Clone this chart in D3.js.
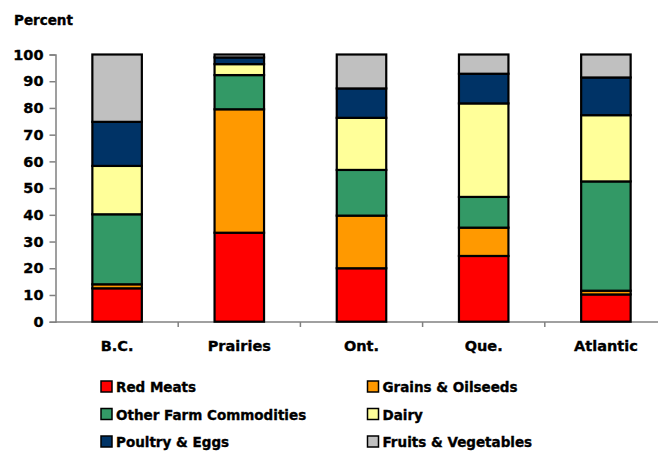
<!DOCTYPE html>
<html><head><meta charset="utf-8">
<script src="https://cdn.jsdelivr.net/npm/d3@7"></script>
<style>body{margin:0;background:#fff}svg text{font-family:"DejaVu Sans",sans-serif;font-weight:bold;fill:#000;stroke:#000;stroke-width:0.35px}</style>
</head><body><svg id="c" width="658" height="451"></svg>
<script>
const categories = ["B.C.", "Prairies", "Ont.", "Que.", "Atlantic"];
const seriesNames = ["Red Meats", "Grains & Oilseeds", "Other Farm Commodities", "Dairy", "Poultry & Eggs", "Fruits & Vegetables"];
const seriesColors = ["#FF0000", "#FF9900", "#339966", "#FFFF99", "#003366", "#C0C0C0"];
const redMeats   = [12.5, 33.3, 20.0, 24.6, 10.2];
const grains     = [1.5, 46.2, 19.7, 10.6, 1.4];
const otherFarm  = [26.2, 12.8, 17.1, 11.5, 40.9];
const dairy      = [18.1, 4.1, 19.5, 35.0, 24.8];
const poultry    = [16.5, 2.5, 11.0, 11.1, 14.1];
const fruitsVeg  = [25.2, 1.1, 12.7, 7.2, 8.6];
const yTicks = [0, 10, 20, 30, 40, 50, 60, 70, 80, 90, 100];

const seriesValues = [redMeats, grains, otherFarm, dairy, poultry, fruitsVeg];
const rows = categories.map((c, i) => {
  const r = {cat: c};
  seriesNames.forEach((s, j) => r[s] = seriesValues[j][i]);
  return r;
});
const stack = d3.stack().keys(seriesNames)(rows);

const svg = d3.select("#c");
const x = d3.scaleBand().domain(categories).range([56, 667]).paddingInner(0.595).paddingOuter(0.2975);
const y = d3.scaleLinear().domain([0, 100]).range([321.7, 54.5]);

// y axis
const ya = svg.append("g").attr("transform", "translate(55.5,0)")
  .call(d3.axisLeft(y).tickValues(yTicks).tickSize(6).tickPadding(8).tickFormat(d3.format("d")));
ya.select(".domain").attr("stroke", "#808080").attr("stroke-width", 1.5);
ya.selectAll(".tick line").attr("stroke", "#808080").attr("stroke-width", 1.5);
ya.selectAll(".tick text").style("font-size", "14.5px").attr("x", -12);

// x axis
const xa = svg.append("g").attr("transform", "translate(0,322)")
  .call(d3.axisBottom(x).tickSize(0).tickPadding(19));
xa.select(".domain").attr("stroke", "#808080").attr("stroke-width", 1.5).attr("d", "M55,0H667");
xa.selectAll(".tick text").style("font-size", "14.5px");
// tick marks between categories
const between = categories.slice(1).map(c => x(c) - x.step() * x.paddingInner() / 2);
svg.append("g").selectAll("line").data(between).join("line")
  .attr("x1", d => d).attr("x2", d => d).attr("y1", 322).attr("y2", 327)
  .attr("stroke", "#808080").attr("stroke-width", 1.5);

// bars
svg.append("g").selectAll("g").data(stack).join("g")
  .attr("fill", (d, i) => seriesColors[i])
  .selectAll("rect").data(d => d).join("rect")
  .attr("x", d => x(d.data.cat))
  .attr("width", x.bandwidth())
  .attr("y", d => y(d[1]))
  .attr("height", d => y(d[0]) - y(d[1]))
  .attr("stroke", "#000").attr("stroke-width", 2.2);

// title
svg.append("text").attr("x", 14).attr("y", 25).style("font-size", "13.5px").text("Percent");

// legend
const lg = svg.append("g").selectAll("g").data(seriesNames).join("g")
  .attr("transform", (d, i) => `translate(${i % 2 === 0 ? 101 : 367.5},${381 + Math.floor(i / 2) * 27.5})`);
lg.append("rect").attr("width", 11).attr("height", 11)
  .attr("fill", (d, i) => seriesColors[i]).attr("stroke", "#000").attr("stroke-width", 1.5);
lg.append("text").attr("x", 15).attr("y", 11).style("font-size", "13.5px").text(d => d);
</script></body></html>
